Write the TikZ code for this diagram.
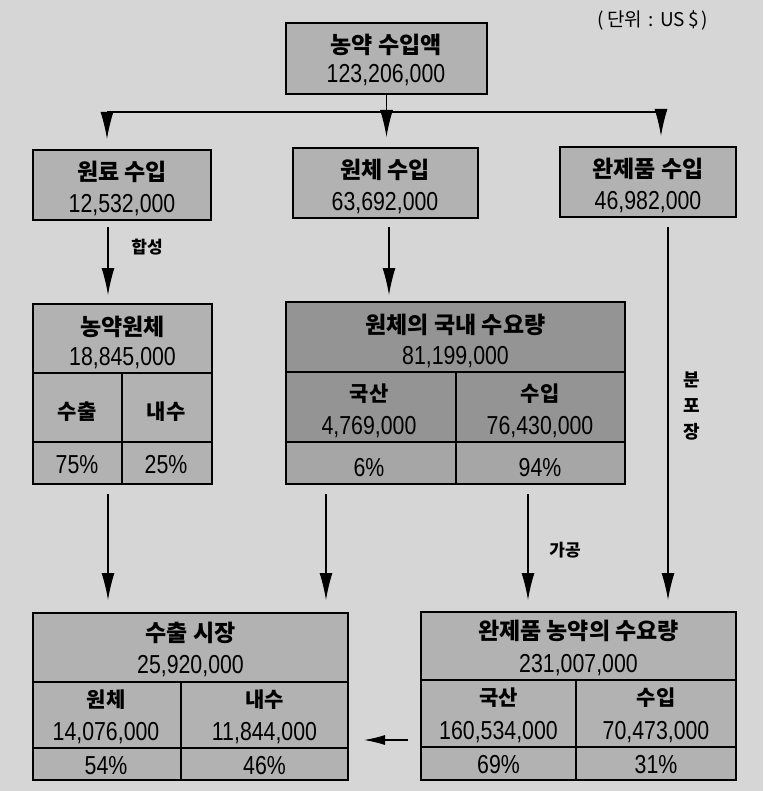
\documentclass[tikz,border=0pt]{standalone}
\usepackage{fontspec}
\setmainfont{Noto Sans CJK KR}
\newfontfamily\numf{Liberation Sans}[FakeStretch=0.82]
\usetikzlibrary{arrows.meta}
\definecolor{bgc}{RGB}{214,214,214}
\definecolor{boxg}{RGB}{178,178,178}
\definecolor{darkg}{RGB}{148,148,148}
\definecolor{midg}{RGB}{166,166,166}
\begin{document}
\begin{tikzpicture}[x=1pt,y=-1pt,
  cell/.style={draw=black, line width=1.1pt, inner sep=0, outer sep=0, anchor=north west},
  ttl/.style={font=\bfseries\fontsize{23}{25}\selectfont, inner sep=0, text height=18.5pt, text depth=1pt},
  sub/.style={font=\bfseries\fontsize{21}{23}\selectfont, inner sep=0, text height=17pt, text depth=1pt},
  num/.style={font=\numf\fontsize{26}{28}\selectfont, inner sep=0, text height=18.6pt, text depth=0pt},
  lbl/.style={font=\bfseries\fontsize{17}{19}\selectfont, inner sep=0},
  arr/.style={line width=1.1pt, -{Latex[length=27pt,width=13pt]}},
  arrs/.style={line width=1.1pt, -{Latex[length=21pt,width=10pt]}},
]
\fill[bgc] (0,0) rectangle (763,791);
\useasboundingbox (0,0) rectangle (763,791);

% unit label
\node[font=\fontsize{19}{21}\selectfont, inner sep=0] (unit) at (653,20) {(\,단위\,\,:\,\,US\,\$\,)};

% top box
\node[cell, fill=boxg, minimum width=201pt, minimum height=71pt] (top) at (286,23) {};
\node[ttl] (topT) at (386,45) {농약 수입액};
\node[num] (topN) at (386,73) {123,206,000};

% row 2
\node[cell, fill=boxg, minimum width=178pt, minimum height=70pt] (b1) at (33,150) {};
\node[ttl] (b1T) at (122,172) {원료 수입};
\node[num] (b1N) at (122,203) {12,532,000};
\node[cell, fill=boxg, minimum width=185pt, minimum height=70pt] (b2) at (293,148) {};
\node[ttl] (b2T) at (385,170) {원체 수입};
\node[num] (b2N) at (385,201) {63,692,000};
\node[cell, fill=boxg, minimum width=176pt, minimum height=70pt] (b3) at (560,147) {};
\node[ttl] (b3T) at (648,169) {완제품 수입};
\node[num] (b3N) at (648,200) {46,982,000};

% left table (농약원체)
\node[cell, fill=boxg, minimum width=179pt, minimum height=69pt] (tL) at (33,304) {};
\node[cell, fill=boxg, minimum width=89pt, minimum height=69pt] (tL1) at (33,373) {};
\node[cell, fill=boxg, minimum width=90pt, minimum height=69pt] (tL2) at (122,373) {};
\node[cell, fill=boxg, minimum width=89pt, minimum height=42pt] (tL3) at (33,442) {};
\node[cell, fill=boxg, minimum width=90pt, minimum height=42pt] (tL4) at (122,442) {};
\node[ttl] (tLT) at (122.5,327) {농약원체};
\node[num] (tLN) at (122.5,356) {18,845,000};
\node[sub] (tL1T) at (77,411) {수출};
\node[sub] (tL2T) at (166,411) {내수};
\node[num] (tL3T) at (77,464) {75\%};
\node[num] (tL4T) at (166,464) {25\%};

% middle table (원체의 국내 수요량)
\node[cell, fill=darkg, minimum width=339pt, minimum height=70pt] (tM) at (286,302) {};
\node[cell, fill=darkg, minimum width=170pt, minimum height=70pt] (tM1) at (286,372) {};
\node[cell, fill=darkg, minimum width=169pt, minimum height=70pt] (tM2) at (456,372) {};
\node[cell, fill=midg, minimum width=170pt, minimum height=42pt] (tM3) at (286,442) {};
\node[cell, fill=midg, minimum width=169pt, minimum height=42pt] (tM4) at (456,442) {};
\node[ttl] (tMT) at (455.5,325) {원체의 국내 수요량};
\node[num] (tMN) at (455.5,355) {81,199,000};
\node[sub] (tM1T) at (369,393) {국산};
\node[num] (tM1N) at (369,425) {4,769,000};
\node[sub] (tM2T) at (540,393) {수입};
\node[num] (tM2N) at (540,425) {76,430,000};
\node[num] (tM3T) at (369,467) {6\%};
\node[num] (tM4T) at (540,467) {94\%};

% bottom left table (수출 시장)
\node[cell, fill=boxg, minimum width=315pt, minimum height=69pt] (bL) at (33,613) {};
\node[cell, fill=boxg, minimum width=148pt, minimum height=66pt] (bL1) at (33,682) {};
\node[cell, fill=boxg, minimum width=167pt, minimum height=66pt] (bL2) at (181,682) {};
\node[cell, fill=boxg, minimum width=148pt, minimum height=32pt] (bL3) at (33,748) {};
\node[cell, fill=boxg, minimum width=167pt, minimum height=32pt] (bL4) at (181,748) {};
\node[ttl] (bLT) at (190.5,633) {수출 시장};
\node[num] (bLN) at (190.5,664) {25,920,000};
\node[sub] (bL1T) at (106,699) {원체};
\node[num] (bL1N) at (106,731) {14,076,000};
\node[sub] (bL2T) at (264.5,699) {내수};
\node[num] (bL2N) at (264.5,731) {11,844,000};
\node[num] (bL3T) at (106,765) {54\%};
\node[num] (bL4T) at (264.5,765) {46\%};

% bottom right table (완제품 농약의 수요량)
\node[cell, fill=boxg, minimum width=315pt, minimum height=68pt] (bR) at (421,612) {};
\node[cell, fill=boxg, minimum width=155pt, minimum height=67pt] (bR1) at (421,680) {};
\node[cell, fill=boxg, minimum width=160pt, minimum height=67pt] (bR2) at (576,680) {};
\node[cell, fill=boxg, minimum width=155pt, minimum height=33pt] (bR3) at (421,747) {};
\node[cell, fill=boxg, minimum width=160pt, minimum height=33pt] (bR4) at (576,747) {};
\node[ttl] (bRT) at (578.5,631) {완제품 농약의 수요량};
\node[num] (bRN) at (578.5,663) {231,007,000};
\node[sub] (bR1T) at (498.5,697) {국산};
\node[num] (bR1N) at (498.5,730) {160,534,000};
\node[sub] (bR2T) at (656,697) {수입};
\node[num] (bR2N) at (656,730) {70,473,000};
\node[num] (bR3T) at (498.5,764) {69\%};
\node[num] (bR4T) at (656,764) {31\%};

% connector guides
\coordinate (hL) at (107,112);
\coordinate (hR) at (661,112);
\coordinate (xA) at (108,0);
\coordinate (xB) at (389,0);
\coordinate (xC) at (668,0);
\coordinate (xD) at (326,0);
\coordinate (xE) at (528,0);
\coordinate (yA) at (0,740);

% top distribution
\draw[line width=1.1pt] (hL) -- (hR);
\draw[arr, shorten >=11pt] (top.south) -- (top.south |- b2.north);
\draw[arr, shorten >=11pt] (hL) -- (hL |- b1.north);
\draw[arr, shorten >=11pt] (hR) -- (hR |- b3.north);

% row 2 -> row 3
\draw[arr, shorten <=7pt, shorten >=9pt] (b1.south -| xA) -- (tL.north -| xA);
\draw[arr, shorten <=9pt, shorten >=7pt] (b2.south -| xB) -- (tM.north -| xB);
\draw[arr, shorten <=10pt, shorten >=12pt] (b3.south -| xC) -- (bR.north -| xC);

% row 3 -> row 4
\draw[arr, shorten <=10pt, shorten >=13pt] (tL3.south -| xA) -- (bL.north -| xA);
\draw[arr, shorten <=10pt, shorten >=13pt] (tM3.south -| xD) -- (bL.north -| xD);
\draw[arr, shorten <=10pt, shorten >=12pt] (tM4.south -| xE) -- (bR.north -| xE);

% bottom horizontal arrow
\draw[arrs, shorten <=13pt, shorten >=16pt] (bR1.west |- yA) -- (bL2.east |- yA);

% labels
\node[lbl] (lab1) at (147,247) {합성};
\node[lbl] (lab2) at (565,550) {가공};
\node[lbl, align=center, font=\bfseries\fontsize{18}{26}\selectfont] (lab3) at (692,406) {분\\포\\장};
\end{tikzpicture}
\end{document}
